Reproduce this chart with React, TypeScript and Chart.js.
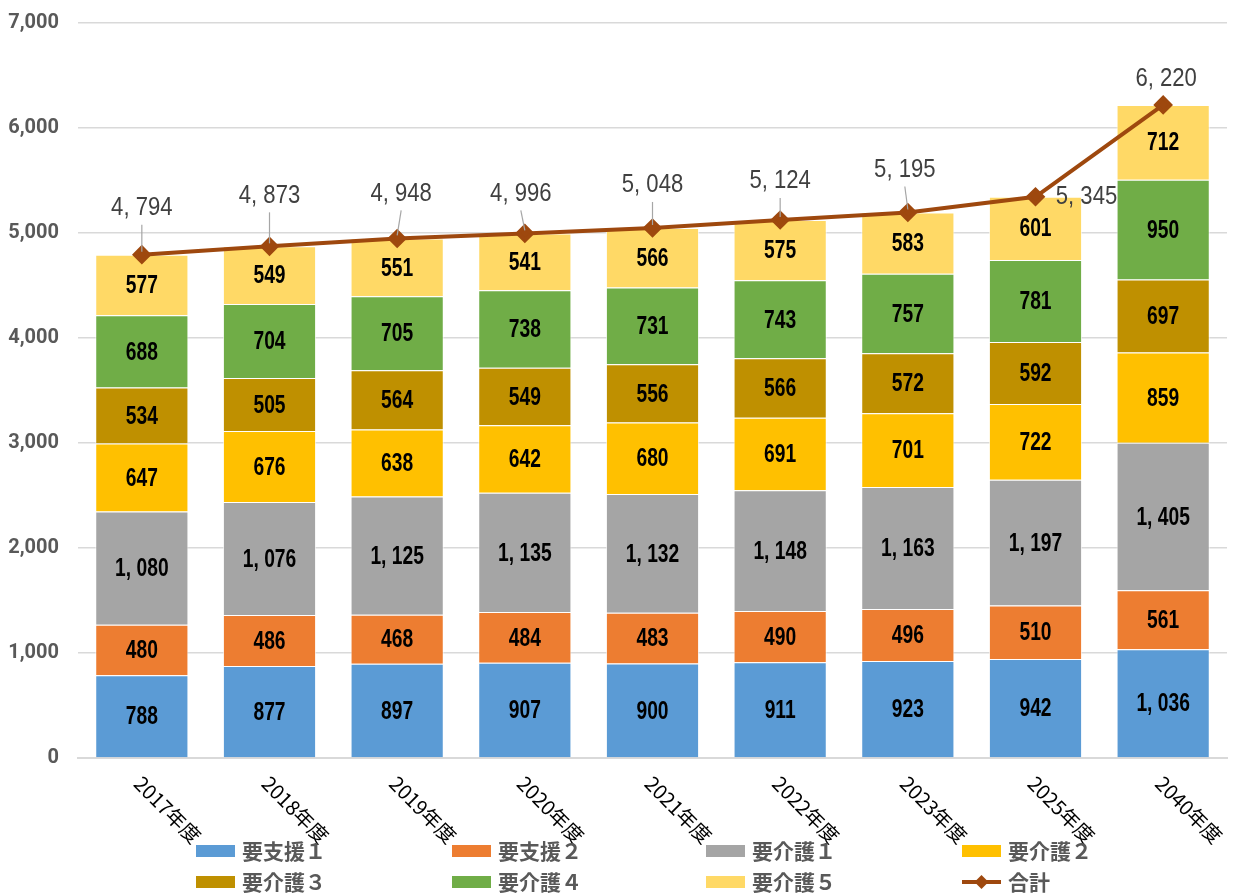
import React, { useEffect, useRef } from "react";
import { Chart, registerables } from "chart.js";

Chart.register(...registerables);

const categories = ["2017年度", "2018年度", "2019年度", "2020年度", "2021年度", "2022年度", "2023年度", "2025年度", "2040年度"];
const seriesNames = ["要支援１", "要支援２", "要介護１", "要介護２", "要介護３", "要介護４", "要介護５"];
const shien1 = [788, 877, 897, 907, 900, 911, 923, 942, 1036];
const shien2 = [480, 486, 468, 484, 483, 490, 496, 510, 561];
const kaigo1 = [1080, 1076, 1125, 1135, 1132, 1148, 1163, 1197, 1405];
const kaigo2 = [647, 676, 638, 642, 680, 691, 701, 722, 859];
const kaigo3 = [534, 505, 564, 549, 556, 566, 572, 592, 697];
const kaigo4 = [688, 704, 705, 738, 731, 743, 757, 781, 950];
const kaigo5 = [577, 549, 551, 541, 566, 575, 583, 601, 712];
const totalName = "合計";
const totals = [4794, 4873, 4948, 4996, 5048, 5124, 5195, 5345, 6220];
const yTicks = [0, 1000, 2000, 3000, 4000, 5000, 6000, 7000];

const barColors = ["#5B9BD5", "#ED7D31", "#A5A5A5", "#FFC000", "#BF9000", "#70AD47", "#FFD966"];
const lineColor = "#9E480E";
// label placement offsets for the total labels (style only)
const totalLabelOffsets: [number, number][] = [
  [0, -47], [0, -51], [4, -45], [-4, -40], [0, -43], [0, -39], [-3, -43], [51, 0], [3, -26],
];
const legendCols = [196, 452, 706, 962];
const legendRows = [851, 882];

const fmt = (v: number) => {
  const s = String(v);
  if (v >= 1000) return s.slice(0, s.length - 3) + ", " + s.slice(s.length - 3);
  return s;
};

const LAT = "'Liberation Sans', Arial, sans-serif";
const CJK = "'Noto Sans CJK JP', 'Noto Sans', sans-serif";

function narrowText(ctx: CanvasRenderingContext2D, text: string, x: number, y: number, sx: number) {
  ctx.save();
  ctx.translate(x, y);
  ctx.scale(sx, 1);
  ctx.fillText(text, 0, 0);
  ctx.restore();
}

const overlayPlugin = {
  id: "overlay",
  afterDatasetsDraw(chart: any) {
    const ctx = chart.ctx as CanvasRenderingContext2D;
    ctx.save();
    // bar segment labels
    ctx.font = `bold 26px ${LAT}`;
    ctx.fillStyle = "#000000";
    ctx.textAlign = "center";
    ctx.textBaseline = "middle";
    chart.data.datasets.forEach((ds: any, di: number) => {
      if (ds.type === "line") return;
      const meta = chart.getDatasetMeta(di);
      meta.data.forEach((el: any, i: number) => {
        const y = (el.y + el.base) / 2;
        narrowText(ctx, fmt(ds.data[i]), el.x, y + 1, 0.74);
      });
    });
    // total labels
    const li = chart.data.datasets.findIndex((d: any) => d.type === "line");
    const lmeta = chart.getDatasetMeta(li);
    lmeta.data.forEach((pt: any, i: number) => {
      const [dx, dy] = totalLabelOffsets[i];
      const lx = pt.x + dx;
      const ly = pt.y + dy;
      if (dy < -30) {
        ctx.strokeStyle = "#A6A6A6";
        ctx.lineWidth = 1.2;
        ctx.beginPath();
        ctx.moveTo(lx, ly + 17);
        ctx.lineTo(pt.x, pt.y - 3);
        ctx.stroke();
      }
      ctx.font = `26px ${LAT}`;
      ctx.fillStyle = "#404040";
      narrowText(ctx, fmt(chart.data.datasets[li].data[i]), lx, ly, 0.85);
    });
    ctx.restore();
  },
  afterDraw(chart: any) {
    const ctx = chart.ctx as CanvasRenderingContext2D;
    const xs = chart.scales.x;
    ctx.save();
    // rotated x labels
    ctx.font = `20px ${CJK}`;
    ctx.fillStyle = "#000000";
    ctx.textAlign = "left";
    ctx.textBaseline = "middle";
    chart.data.labels.forEach((lab: string, i: number) => {
      const x = xs.getPixelForValue(i);
      ctx.save();
      ctx.translate(x - 4, 780);
      ctx.rotate(Math.PI / 4);
      ctx.fillText(lab, 0, 0);
      ctx.restore();
    });
    // legend
    const items = chart.data.datasets;
    ctx.font = `bold 21px ${CJK}`;
    ctx.textBaseline = "middle";
    items.forEach((ds: any, k: number) => {
      const x = legendCols[k % 4];
      const y = legendRows[Math.floor(k / 4)];
      if (ds.type === "line") {
        ctx.strokeStyle = lineColor;
        ctx.lineWidth = 4;
        ctx.beginPath();
        ctx.moveTo(x, y);
        ctx.lineTo(x + 39, y);
        ctx.stroke();
        ctx.fillStyle = lineColor;
        ctx.beginPath();
        ctx.moveTo(x + 19.5, y - 7);
        ctx.lineTo(x + 26.5, y);
        ctx.lineTo(x + 19.5, y + 7);
        ctx.lineTo(x + 12.5, y);
        ctx.closePath();
        ctx.fill();
      } else {
        ctx.fillStyle = ds.backgroundColor;
        ctx.fillRect(x, y - 6, 39, 12);
      }
      ctx.fillStyle = "#595959";
      ctx.fillText(ds.label, x + 46, y);
    });
    ctx.restore();
  },
};

export default function App() {
  const ref = useRef<HTMLCanvasElement>(null);
  useEffect(() => {
    if (!ref.current) return;
    const barSeries = [shien1, shien2, kaigo1, kaigo2, kaigo3, kaigo4, kaigo5];
    const datasets: any[] = barSeries.map((d, i) => ({
      type: "bar",
      label: seriesNames[i],
      data: d,
      backgroundColor: barColors[i],
      borderColor: "rgba(255,255,255,0.7)",
      borderWidth: 1,
      stack: "bars",
      order: 1,
      categoryPercentage: 0.73,
      barPercentage: 1,
    }));
    datasets.push({
      type: "line",
      label: totalName,
      data: totals,
      borderColor: lineColor,
      backgroundColor: lineColor,
      borderWidth: 4,
      pointStyle: "rectRot",
      pointRadius: 7,
      pointBackgroundColor: lineColor,
      pointBorderColor: lineColor,
      stack: "line",
      order: 0,
    });
    const chart = new Chart(ref.current, {
      type: "bar",
      data: { labels: categories, datasets },
      plugins: [overlayPlugin],
      options: {
        animation: false,
        responsive: true,
        maintainAspectRatio: false,
        layout: { padding: { top: 23, right: 2, left: 0, bottom: 0 } },
        plugins: { legend: { display: false }, tooltip: { enabled: false } },
        scales: {
          x: {
            stacked: true,
            grid: { display: false },
            border: { display: true, color: "#D9D9D9", width: 2 },
            ticks: { display: false },
            afterFit: (s: any) => { s.height = 135; s.paddingLeft = 0; s.paddingRight = 0; },
          },
          y: {
            stacked: true,
            min: 0,
            max: 7000,
            afterBuildTicks: (s: any) => { s.ticks = yTicks.map((v) => ({ value: v })); },
            grid: { color: "#D9D9D9", lineWidth: 1.5, drawTicks: false },
            border: { display: false },
            ticks: {
              padding: 19,
              color: "#595959",
              font: { family: "Roboto, 'Liberation Sans', sans-serif", size: 20, weight: "bold" },
              callback: (v: any) => Number(v).toLocaleString("en-US"),
            },
            afterFit: (s: any) => { s.width = 78; s.paddingTop = 0; s.paddingBottom = 0; },
          },
        },
      } as any,
    });
    return () => chart.destroy();
  }, []);
  return (
    <div style={{ position: "fixed", left: 0, top: 0, width: 1238, height: 893, background: "#fff" }}>
      <canvas ref={ref} />
    </div>
  );
}
